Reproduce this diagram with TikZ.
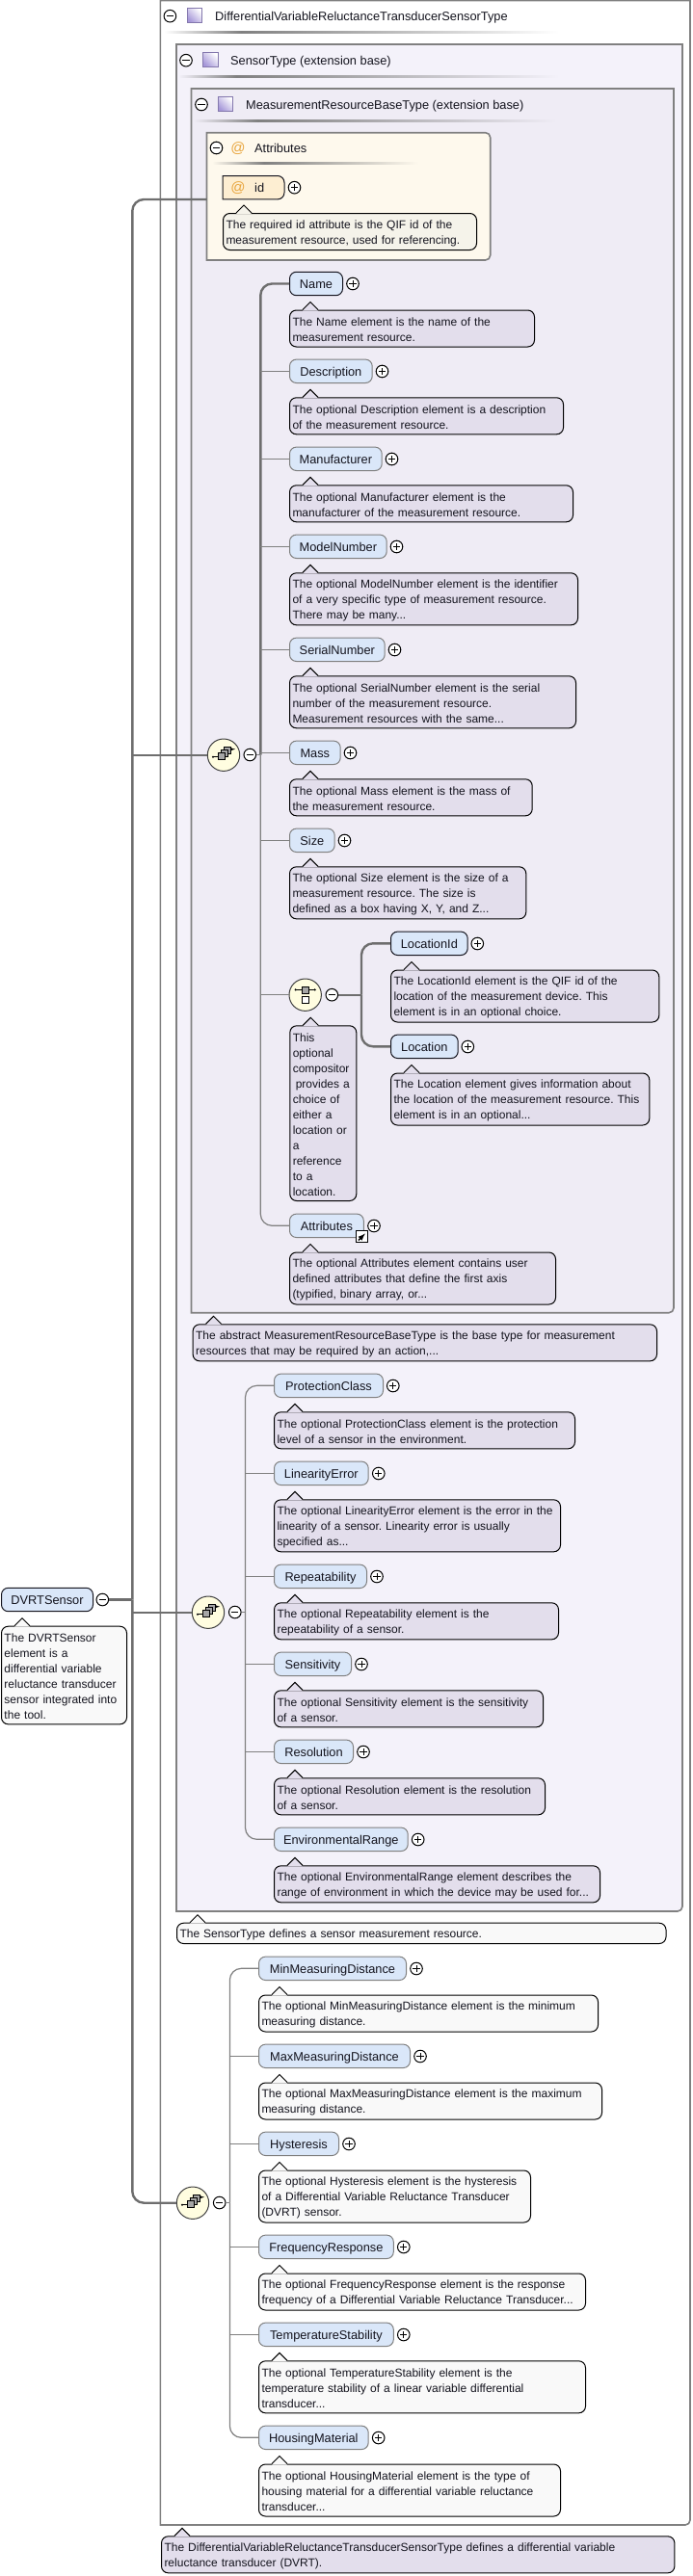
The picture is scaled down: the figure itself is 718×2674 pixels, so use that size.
\documentclass[tikz,border=0pt]{standalone}
\usepackage{fontspec}
\setmainfont{Liberation Sans}
\AtBeginDocument{\frenchspacing}
\definecolor{pillblue}{HTML}{DAE7F9}
\definecolor{notepurple}{HTML}{E3DEEC}
\definecolor{notewhite}{HTML}{F9F9F9}
\definecolor{notecream}{HTML}{F5F3EA}
\definecolor{boxone}{HTML}{F4F2FA}
\definecolor{boxtwo}{HTML}{EFECF5}
\definecolor{boxattr}{HTML}{FEF9ED}
\definecolor{pillattr}{HTML}{FDEED2}
\definecolor{atorange}{HTML}{E9A63F}
\definecolor{edgegray}{HTML}{808080}
\definecolor{linkgray}{HTML}{6E6E6E}
\definecolor{inkdark}{HTML}{14141E}
\definecolor{iconpurple}{HTML}{A596D8}
\tikzset{
	every node/.style={text=inkdark, font=\fontsize{12}{16}\selectfont},
	typebox/.style={draw=edgegray, line width=1.6},
	optpill/.style={draw=edgegray, line width=1, fill=pillblue, rounded corners=7, anchor=west, minimum height=24.4, inner xsep=0, inner ysep=0, text height=11, text depth=1.4, font=\fontsize{12.8}{16}\selectfont},
	reqpill/.style={optpill, draw=inkdark},
	notebox/.style 2 args={draw=black, line width=1, rounded corners=7, anchor=north west, align=left, inner xsep=3, inner ysep=0, minimum height=#2, text width=\dimexpr#1pt-6pt\relax, execute at begin node={\rule{0pt}{11.6pt}}},
	purplenote/.style 2 args={notebox={#1}{#2}, fill=notepurple},
	whitenote/.style 2 args={notebox={#1}{#2}, fill=notewhite},
	creamnote/.style 2 args={notebox={#1}{#2}, fill=notecream},
	btn/.style={circle, draw=black, line width=1, fill=white, minimum size=12.6, inner sep=0},
	plusbtn/.style={btn, path picture={\draw[black, line width=1] ([xshift=-3.6]path picture bounding box.center) -- ([xshift=3.6]path picture bounding box.center) ([yshift=-3.6]path picture bounding box.center) -- ([yshift=3.6]path picture bounding box.center);}},
	minusbtn/.style={btn, path picture={\draw[black, line width=1] ([xshift=-3.6]path picture bounding box.center) -- ([xshift=3.6]path picture bounding box.center);}},
	compositor/.style={circle, draw=black!75, line width=1, fill=yellow!12, minimum size=33.4, inner sep=0},
	typeicon/.style={draw=iconpurple!80!black, line width=0.8, left color=white, right color=iconpurple, shading angle=-45, minimum size=15.6, inner sep=0},
	atsign/.style={text=atorange, font=\fontsize{15}{15}\selectfont},
	heading/.style={anchor=west, inner sep=0, text height=11, text depth=1.4, font=\fontsize{12.8}{16}\selectfont},
	heavylink/.style={draw=linkgray, line width=2.4},
	lightlink/.style={draw=edgegray, line width=1.2},
}
\newcommand{\notetip}[2]{
	\fill[#2] ([shift={(14,1)}]#1.north west) -- ++(8,-9) -- ++(8,9) -- cycle;
	\draw[black, line width=1] ([shift={(14,0)}]#1.north west) -- ++(8,-8) -- ++(8,8);
}
\newcommand{\headrule}[5]{
	\shade[left color=#5, right color=edgegray] (#1,#4) rectangle (#2,#4+2);
	\shade[left color=edgegray, right color=#5] (#2,#4) rectangle (#3,#4+2);
}
\newcommand{\seqicon}[1]{
	\begin{scope}[shift={(#1.center)}]
		\draw[black, line width=1] (-11,2) -- (-6,2);
		\draw[black, line width=1, -latex] (5,-6) -- (12,-6);
		\fill[black] (-11,2) circle (1.2);
		\draw[black, fill=gray!70, line width=0.8] (0,-8) rectangle (7,-1);
		\draw[black, fill=gray!70, line width=0.8] (-3,-5.5) rectangle (4,1.5);
		\draw[black, fill=gray!70, line width=0.8] (-6,-2.5) rectangle (1,4.5);
	\end{scope}
}
\newcommand{\choiceicon}[1]{
	\begin{scope}[shift={(#1.center)}]
		\draw[black, line width=1] (-10,-5.3) -- (10,-5.3);
		\fill[black] (-10,-5.3) circle (1.2) (10,-5.3) circle (1.2);
		\draw[black, fill=gray!70, line width=0.8] (-3.5,-8.5) rectangle (3.5,-1.5);
		\draw[black, fill=white, line width=0.8] (-3.5,2) rectangle (3.5,9);
	\end{scope}
}
\begin{document}
\begin{tikzpicture}[x=1pt, y=-1pt]
	\useasboundingbox (0,0) rectangle (718,2674);
	% nested type boxes
	\draw[typebox, fill=white] (166.4,0.5) -- (716,0.5) [rounded corners=5] -- (716,2621) [sharp corners] -- (166.4,2621) -- cycle;
	\draw[typebox, fill=boxone] (183,46) -- (708,46) [rounded corners=5] -- (708,1984) [sharp corners] -- (183,1984) -- cycle;
	\draw[typebox, fill=boxtwo] (198.5,92) -- (699,92) [rounded corners=5] -- (699,1362.7) [sharp corners] -- (198.5,1362.7) -- cycle;
	\draw[typebox, fill=boxattr] (214.5,137.7) [rounded corners=5] -- (508.7,137.7) -- (508.7,270) [sharp corners] -- (214.5,270) -- cycle;
	\coordinate (attrEdge) at (214.5,207);
	% headers
	\node[minusbtn] (typeMinus) at (176.4,16.7) {};
	\node[typeicon] (typeIcon) at (202,16) {};
	\node[heading] (typeTitle) at (223,16.5) {DifferentialVariableReluctanceTransducerSensorType};
	\headrule{170}{250}{580}{32}{white}
	\node[minusbtn] (sensorMinus) at (193,62.7) {};
	\node[typeicon] (sensorIcon) at (218.3,62) {};
	\node[heading] (sensorTitle) at (239,62.5) {SensorType (extension base)};
	\headrule{185}{245}{580}{78}{boxone}
	\node[minusbtn] (baseMinus) at (209,108.5) {};
	\node[typeicon] (baseIcon) at (234,108) {};
	\node[heading] (baseTitle) at (255,108.5) {MeasurementResourceBaseType (extension base)};
	\headrule{201}{267}{577}{124}{boxtwo}
	\node[minusbtn] (attrMinus) at (224.5,153.5) {};
	\node[atsign] (attrAt) at (247,154) {@};
	\node[heading] (attrTitle) at (264,153.5) {Attributes};
	\headrule{220}{274}{434}{168}{boxattr}
	% id attribute
	\draw[inkdark, line width=1, fill=pillattr] (231,182.5) [rounded corners=7] -- (295,182.5) -- (295,206.9) [sharp corners] -- (231,206.9) -- cycle;
	\node[atsign] (idAt) at (247,195.5) {@};
	\node[heading] (idName) at (264,194.7) {id};
	\node[plusbtn] (idPlus) at (305.5,194.7) {};
	\node[creamnote={263}{38}] (idNote) at (231,221) {The required id attribute is the QIF id of the\\measurement resource, used for referencing.};
	\notetip{idNote}{notecream}
	% first sequence
	\node[compositor] (seqOne) at (232,783.7) {};
	\seqicon{seqOne}
	\node[minusbtn] (seqOneMinus) at (259.3,783.5) {};
	\coordinate (seqOneHub) at (270.3,783.5);
	\node[reqpill, minimum width=55] (name) at (300,294.5) {Name};
	\node[plusbtn] (namePlus) at (366,294.5) {};
	\node[purplenote={254}{38}] (nameNote) at (300,321.5) {The Name element is the name of the\\measurement resource.};
	\notetip{nameNote}{notepurple}
	\node[optpill, minimum width=85.7] (description) at (300,385.3) {Description};
	\node[plusbtn] (descriptionPlus) at (396.5,385.5) {};
	\node[purplenote={284}{38}] (descriptionNote) at (300,412.3) {The optional Description element is a description\\of the measurement resource.};
	\notetip{descriptionNote}{notepurple}
	\node[optpill, minimum width=95.7] (manufacturer) at (300,476.3) {Manufacturer};
	\node[plusbtn] (manufacturerPlus) at (406.5,476.5) {};
	\node[purplenote={294}{38}] (manufacturerNote) at (300,503.3) {The optional Manufacturer element is the\\manufacturer of the measurement resource.};
	\notetip{manufacturerNote}{notepurple}
	\node[optpill, minimum width=100.7] (modelNumber) at (300,567.3) {ModelNumber};
	\node[plusbtn] (modelNumberPlus) at (411.5,567.5) {};
	\node[purplenote={299}{54}] (modelNumberNote) at (300,594.3) {The optional ModelNumber element is the identifier\\of a very specific type of measurement resource.\\There may be many...};
	\notetip{modelNumberNote}{notepurple}
	\node[optpill, minimum width=98.7] (serialNumber) at (300,674.3) {SerialNumber};
	\node[plusbtn] (serialNumberPlus) at (409.5,674.5) {};
	\node[purplenote={297}{54}] (serialNumberNote) at (300,701.3) {The optional SerialNumber element is the serial\\number of the measurement resource.\\Measurement resources with the same...};
	\notetip{serialNumberNote}{notepurple}
	\node[optpill, minimum width=52.7] (mass) at (300,781.3) {Mass};
	\node[plusbtn] (massPlus) at (363.5,781.5) {};
	\node[purplenote={251.7}{38}] (massNote) at (300,808.3) {The optional Mass element is the mass of\\the measurement resource.};
	\notetip{massNote}{notepurple}
	\node[optpill, minimum width=46.7] (size) at (300,872.3) {Size};
	\node[plusbtn] (sizePlus) at (357.5,872.5) {};
	\node[purplenote={245.3}{54}] (sizeNote) at (300,899.3) {The optional Size element is the size of a\\measurement resource. The size is\\defined as a box having X, Y, and Z...};
	\notetip{sizeNote}{notepurple}
	% choice of location
	\node[compositor] (choice) at (316.7,1032.7) {};
	\choiceicon{choice}
	\node[minusbtn] (choiceMinus) at (344.3,1032.7) {};
	\coordinate (choiceHub) at (375,1032.7);
	\node[purplenote={69}{181.7}] (choiceNote) at (300.3,1064.3) {This\\optional\\compositor\\\hspace{3pt}provides a\\choice of\\either a\\location or\\a\\reference\\to a\\location.};
	\notetip{choiceNote}{notepurple}
	\node[reqpill, minimum width=79.7] (locationId) at (405,979.3) {LocationId};
	\node[plusbtn] (locationIdPlus) at (495.3,979.5) {};
	\node[purplenote={278.3}{54}] (locationIdNote) at (405,1006.5) {The LocationId element is the QIF id of the\\location of the measurement device. This\\element is in an optional choice.};
	\notetip{locationIdNote}{notepurple}
	\node[reqpill, minimum width=69.7] (location) at (405,1086.3) {Location};
	\node[plusbtn] (locationPlus) at (485.3,1086.5) {};
	\node[purplenote={268.3}{54}] (locationNote) at (405,1113.5) {The Location element gives information about\\the location of the measurement resource. This\\element is in an optional...};
	\notetip{locationNote}{notepurple}
	\node[optpill, minimum width=76.8] (attributes) at (300,1272.3) {Attributes};
	\node[plusbtn] (attributesPlus) at (388,1272.5) {};
	\node[draw=black, line width=1, fill=white, minimum size=12, inner sep=0] (attributesRef) at (375.8,1283.5) {};
	\draw[black, line width=1.5, -latex] (attributesRef.south west) ++(2.5,-2.5) -- ++(7,-7);
	\node[purplenote={276}{54}] (attributesNote) at (300,1299.5) {The optional Attributes element contains user\\defined attributes that define the first axis\\(typified, binary array, or...};
	\notetip{attributesNote}{notepurple}
	\node[purplenote={481.4}{38}] (baseNote) at (199.6,1374.3) {The abstract MeasurementResourceBaseType is the base type for measurement\\resources that may be required by an action,...};
	\notetip{baseNote}{notepurple}
	% second sequence
	\node[compositor] (seqTwo) at (216,1673.7) {};
	\seqicon{seqTwo}
	\node[minusbtn] (seqTwoMinus) at (243.8,1673.5) {};
	\coordinate (seqTwoHub) at (254.5,1673.5);
	\node[optpill, minimum width=113] (protectionClass) at (284,1438.3) {ProtectionClass};
	\node[plusbtn] (protectionClassPlus) at (407.8,1438.5) {};
	\node[purplenote={312}{38}] (protectionClassNote) at (284,1465.3) {The optional ProtectionClass element is the protection\\level of a sensor in the environment.};
	\notetip{protectionClassNote}{notepurple}
	\node[optpill, minimum width=97.7] (linearityError) at (284,1529.3) {LinearityError};
	\node[plusbtn] (linearityErrorPlus) at (392.8,1529.5) {};
	\node[purplenote={297}{54}] (linearityErrorNote) at (284,1556.3) {The optional LinearityError element is the error in the\\linearity of a sensor. Linearity error is usually\\specified as...};
	\notetip{linearityErrorNote}{notepurple}
	\node[optpill, minimum width=96] (repeatability) at (284,1636.3) {Repeatability};
	\node[plusbtn] (repeatabilityPlus) at (391,1636.5) {};
	\node[purplenote={295}{38}] (repeatabilityNote) at (284,1663.3) {The optional Repeatability element is the\\repeatability of a sensor.};
	\notetip{repeatabilityNote}{notepurple}
	\node[optpill, minimum width=80] (sensitivity) at (284,1727.3) {Sensitivity};
	\node[plusbtn] (sensitivityPlus) at (375,1727.5) {};
	\node[purplenote={279}{38}] (sensitivityNote) at (284,1754.3) {The optional Sensitivity element is the sensitivity\\of a sensor.};
	\notetip{sensitivityNote}{notepurple}
	\node[optpill, minimum width=82] (resolution) at (284,1818.3) {Resolution};
	\node[plusbtn] (resolutionPlus) at (377,1818.5) {};
	\node[purplenote={281}{38}] (resolutionNote) at (284,1845.3) {The optional Resolution element is the resolution\\of a sensor.};
	\notetip{resolutionNote}{notepurple}
	\node[optpill, minimum width=138.7] (environmentalRange) at (284,1909.3) {EnvironmentalRange};
	\node[plusbtn] (environmentalRangePlus) at (433.7,1909.5) {};
	\node[purplenote={338}{38}] (environmentalRangeNote) at (284,1936.3) {The optional EnvironmentalRange element describes the\\range of environment in which the device may be used for...};
	\notetip{environmentalRangeNote}{notepurple}
	\node[whitenote={507.5}{21.3}] (sensorNote) at (183,1995.7) {The SensorType defines a sensor measurement resource.};
	\notetip{sensorNote}{notewhite}
	% third sequence
	\node[compositor] (seqThree) at (200,2286.7) {};
	\seqicon{seqThree}
	\node[minusbtn] (seqThreeMinus) at (227.7,2286.5) {};
	\coordinate (seqThreeHub) at (238.4,2286.5);
	\node[optpill, minimum width=153] (minMeasuringDistance) at (268,2043.3) {MinMeasuringDistance};
	\node[plusbtn] (minMeasuringDistancePlus) at (432,2043.5) {};
	\node[whitenote={352}{38}] (minMeasuringDistanceNote) at (268,2070.5) {The optional MinMeasuringDistance element is the minimum\\measuring distance.};
	\notetip{minMeasuringDistanceNote}{notewhite}
	\node[optpill, minimum width=157] (maxMeasuringDistance) at (268,2134.3) {MaxMeasuringDistance};
	\node[plusbtn] (maxMeasuringDistancePlus) at (436,2134.5) {};
	\node[whitenote={356}{38}] (maxMeasuringDistanceNote) at (268,2161.5) {The optional MaxMeasuringDistance element is the maximum\\measuring distance.};
	\notetip{maxMeasuringDistanceNote}{notewhite}
	\node[optpill, minimum width=83] (hysteresis) at (268,2225.3) {Hysteresis};
	\node[plusbtn] (hysteresisPlus) at (362,2225.5) {};
	\node[whitenote={282}{54}] (hysteresisNote) at (268,2252.5) {The optional Hysteresis element is the hysteresis\\of a Differential Variable Reluctance Transducer\\(DVRT) sensor.};
	\notetip{hysteresisNote}{notewhite}
	\node[optpill, minimum width=139.8] (frequencyResponse) at (268,2332.3) {FrequencyResponse};
	\node[plusbtn] (frequencyResponsePlus) at (418.8,2332.5) {};
	\node[whitenote={339}{38}] (frequencyResponseNote) at (268,2359.5) {The optional FrequencyResponse element is the response\\frequency of a Differential Variable Reluctance Transducer...};
	\notetip{frequencyResponseNote}{notewhite}
	\node[optpill, minimum width=139.8] (temperatureStability) at (268,2423.3) {TemperatureStability};
	\node[plusbtn] (temperatureStabilityPlus) at (418.8,2423.5) {};
	\node[whitenote={339}{54}] (temperatureStabilityNote) at (268,2450.3) {The optional TemperatureStability element is the\\temperature stability of a linear variable differential\\transducer...};
	\notetip{temperatureStabilityNote}{notewhite}
	\node[optpill, minimum width=113.7] (housingMaterial) at (268,2530.3) {HousingMaterial};
	\node[plusbtn] (housingMaterialPlus) at (392.7,2530.5) {};
	\node[whitenote={313}{54}] (housingMaterialNote) at (268,2557.5) {The optional HousingMaterial element is the type of\\housing material for a differential variable reluctance\\transducer...};
	\notetip{housingMaterialNote}{notewhite}
	\node[purplenote={532.4}{38}] (typeNote) at (167,2632.3) {The DifferentialVariableReluctanceTransducerSensorType defines a differential variable\\reluctance transducer (DVRT).};
	\notetip{typeNote}{notepurple}
	% root element
	\node[reqpill, minimum width=95] (dvrtSensor) at (1,1660.5) {DVRTSensor};
	\node[minusbtn] (dvrtMinus) at (106.3,1660.5) {};
	\coordinate (rootHub) at (137.3,1660.5);
	\node[whitenote={130}{101.6}] (dvrtNote) at (1,1687.7) {The DVRTSensor\\element is a\\differential variable\\reluctance transducer\\sensor integrated into\\the tool.};
	\notetip{dvrtNote}{notewhite}
	% connectors
	\draw[heavylink, rounded corners=12] (attrEdge) -| (rootHub);
	\draw[heavylink, rounded corners=12] (seqThree.west) -| (rootHub);
	\draw[heavylink] (dvrtMinus.east) -- (rootHub);
	\draw[heavylink] (seqOne.west) -- (seqOne.west -| rootHub);
	\draw[heavylink] (seqTwo.west) -- (seqTwo.west -| rootHub);
	\draw[heavylink, rounded corners=12] (name.west) -| (seqOneHub);
	\draw[lightlink, rounded corners=12] (attributes.west) -| (seqOneHub);
	\draw[lightlink] (seqOneMinus.east) -- (seqOneHub);
	\draw[lightlink] (description.west) -- (description.west -| seqOneHub);
	\draw[lightlink] (manufacturer.west) -- (manufacturer.west -| seqOneHub);
	\draw[lightlink] (modelNumber.west) -- (modelNumber.west -| seqOneHub);
	\draw[lightlink] (serialNumber.west) -- (serialNumber.west -| seqOneHub);
	\draw[lightlink] (mass.west) -- (mass.west -| seqOneHub);
	\draw[lightlink] (size.west) -- (size.west -| seqOneHub);
	\draw[lightlink] (choice.west) -- (choice.west -| seqOneHub);
	\draw[heavylink] (choiceMinus.east) -- (choiceHub);
	\draw[heavylink, rounded corners=12] (locationId.west) -| (choiceHub);
	\draw[heavylink, rounded corners=12] (location.west) -| (choiceHub);
	\draw[lightlink, rounded corners=12] (protectionClass.west) -| (seqTwoHub);
	\draw[lightlink, rounded corners=12] (environmentalRange.west) -| (seqTwoHub);
	\draw[lightlink] (seqTwoMinus.east) -- (seqTwoHub);
	\draw[lightlink] (linearityError.west) -- (linearityError.west -| seqTwoHub);
	\draw[lightlink] (repeatability.west) -- (repeatability.west -| seqTwoHub);
	\draw[lightlink] (sensitivity.west) -- (sensitivity.west -| seqTwoHub);
	\draw[lightlink] (resolution.west) -- (resolution.west -| seqTwoHub);
	\draw[lightlink, rounded corners=12] (minMeasuringDistance.west) -| (seqThreeHub);
	\draw[lightlink, rounded corners=12] (housingMaterial.west) -| (seqThreeHub);
	\draw[lightlink] (seqThreeMinus.east) -- (seqThreeHub);
	\draw[lightlink] (maxMeasuringDistance.west) -- (maxMeasuringDistance.west -| seqThreeHub);
	\draw[lightlink] (hysteresis.west) -- (hysteresis.west -| seqThreeHub);
	\draw[lightlink] (frequencyResponse.west) -- (frequencyResponse.west -| seqThreeHub);
	\draw[lightlink] (temperatureStability.west) -- (temperatureStability.west -| seqThreeHub);
\end{tikzpicture}
\end{document}
